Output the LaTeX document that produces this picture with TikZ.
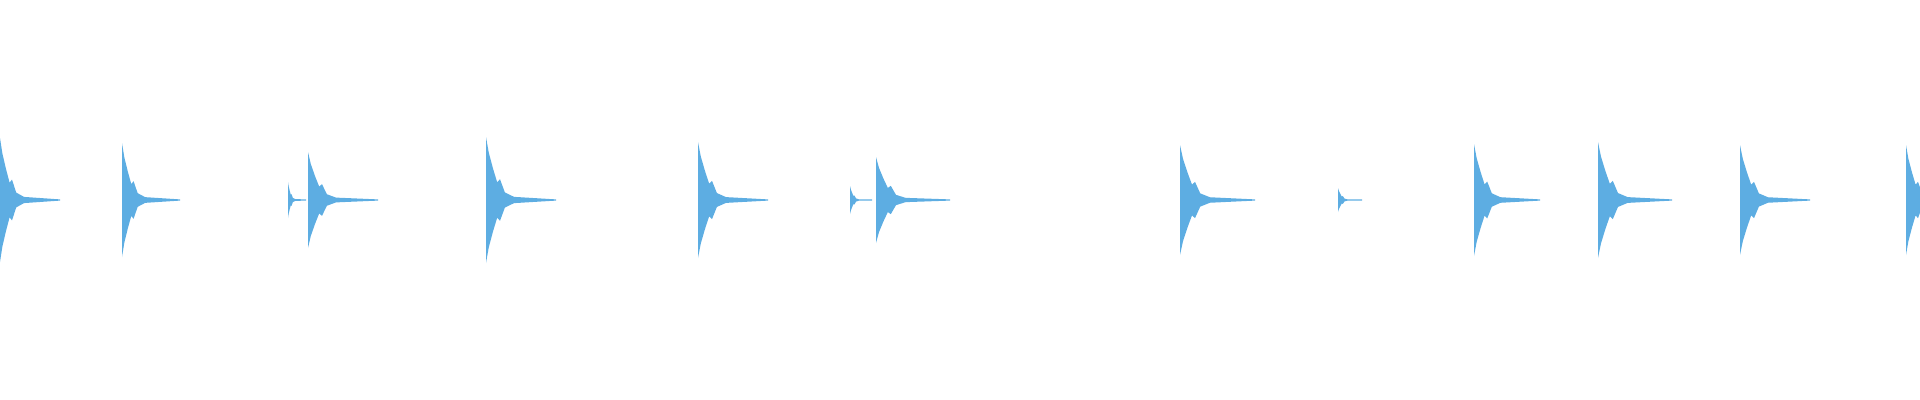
\documentclass[tikz,border=0pt]{standalone}
\definecolor{wave}{RGB}{93,173,226}
\newcommand{\wburst}[3]{%
  \fill[wave] (#1,200)
   -- (#1,{200-#2}) -- ({#1+0.04*#3},{200-0.75*#2}) -- ({#1+0.1*#3},{200-0.5*#2})
   -- ({#1+0.16*#3},{200-0.28*#2}) -- ({#1+0.2*#3},{200-0.33*#2}) -- ({#1+0.27*#3},{200-0.12*#2})
   -- ({#1+0.4*#3},{200-0.05*#2}) -- ({#1+#3},{200-0.6})
   -- ({#1+#3},{200+0.6}) -- ({#1+0.4*#3},{200+0.05*#2}) -- ({#1+0.27*#3},{200+0.12*#2})
   -- ({#1+0.2*#3},{200+0.33*#2}) -- ({#1+0.16*#3},{200+0.28*#2}) -- ({#1+0.1*#3},{200+0.5*#2})
   -- ({#1+0.04*#3},{200+0.75*#2}) -- (#1,{200+#2}) -- cycle;}
\begin{document}
\begin{tikzpicture}[x=0.01cm,y=-0.01cm]
\useasboundingbox (0,0) rectangle (1920,400);
\wburst{0}{62}{60}
\wburst{122}{57}{58}
\wburst{288}{18}{18}
\wburst{308}{48}{70}
\wburst{486}{63}{70}
\wburst{698}{58}{70}
\wburst{850}{14}{22}
\wburst{876}{43}{74}
\wburst{1180}{55}{75}
\wburst{1338}{12}{24}
\wburst{1474}{56}{66}
\wburst{1598}{58}{74}
\wburst{1740}{55}{70}
\wburst{1906}{55}{60}
\end{tikzpicture}
\end{document}
